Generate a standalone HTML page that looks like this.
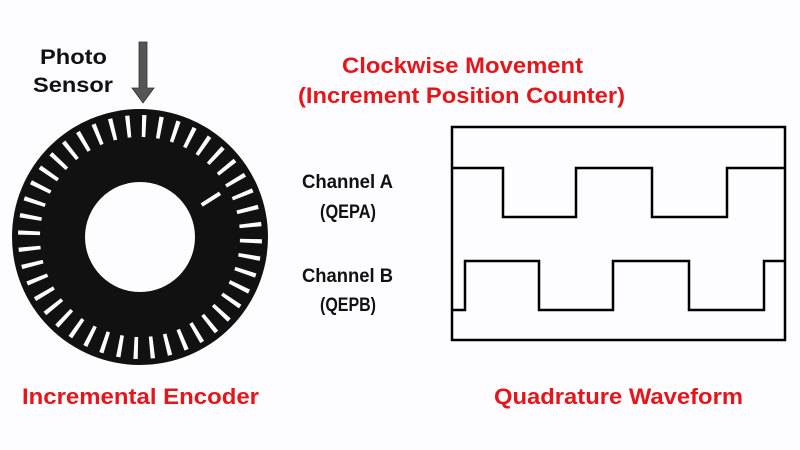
<!DOCTYPE html>
<html><head><meta charset="utf-8"><style>html,body{margin:0;padding:0;background:#fdfcfe;}svg{display:block}</style></head>
<body>
<svg width="800" height="450" viewBox="0 0 800 450" xmlns="http://www.w3.org/2000/svg">
<rect width="800" height="450" fill="#fdfcfe"/>
<g font-family="Liberation Sans, Arial, sans-serif" font-weight="bold">
<text x="40" y="64" font-size="21" textLength="67" lengthAdjust="spacingAndGlyphs" fill="#111">Photo</text>
<text x="33" y="92" font-size="21" textLength="80" lengthAdjust="spacingAndGlyphs" fill="#111">Sensor</text>
<text x="342" y="73" font-size="22" textLength="241" lengthAdjust="spacingAndGlyphs" fill="#e3161c">Clockwise Movement</text>
<text x="298" y="103" font-size="22" textLength="327" lengthAdjust="spacingAndGlyphs" fill="#e3161c">(Increment Position Counter)</text>
<text x="302" y="188" font-size="19" textLength="91" lengthAdjust="spacingAndGlyphs" fill="#111">Channel A</text>
<text x="320" y="218" font-size="19" textLength="56" lengthAdjust="spacingAndGlyphs" fill="#111">(QEPA)</text>
<text x="302" y="282" font-size="19" textLength="91" lengthAdjust="spacingAndGlyphs" fill="#111">Channel B</text>
<text x="320" y="311" font-size="19" textLength="56" lengthAdjust="spacingAndGlyphs" fill="#111">(QEPB)</text>
<text x="22" y="404" font-size="22" textLength="237" lengthAdjust="spacingAndGlyphs" fill="#e3161c">Incremental Encoder</text>
<text x="494" y="404" font-size="22" textLength="249" lengthAdjust="spacingAndGlyphs" fill="#e3161c">Quadrature Waveform</text>
</g>
<polygon points="139,42 147,42 147,88 154,88 143,103 132,88 139,88" fill="#555" stroke="#333" stroke-width="0.8"/>
<circle cx="140" cy="237" r="128" fill="#111"/>
<circle cx="140" cy="237" r="55" fill="#fdfcfe"/>
<circle cx="140" cy="237" r="111" fill="none" stroke="#fdfcfe" stroke-width="22" stroke-dasharray="4 11.85" transform="rotate(-89 140 237)"/>
<line x1="201.7" y1="205" x2="220" y2="193.3" stroke="#fdfcfe" stroke-width="4"/>
<g fill="none" stroke="#000" stroke-width="2.5">
<rect x="452" y="127" width="333" height="213"/>
<polyline points="452,168 503,168 503,217 576,217 576,168 652,168 652,217 727,217 727,168 785,168"/>
<polyline points="452,310 465,310 465,261 539,261 539,310 613,310 613,261 689,261 689,310 764,310 764,261 785,261"/>
</g>
</svg>
</body></html>
